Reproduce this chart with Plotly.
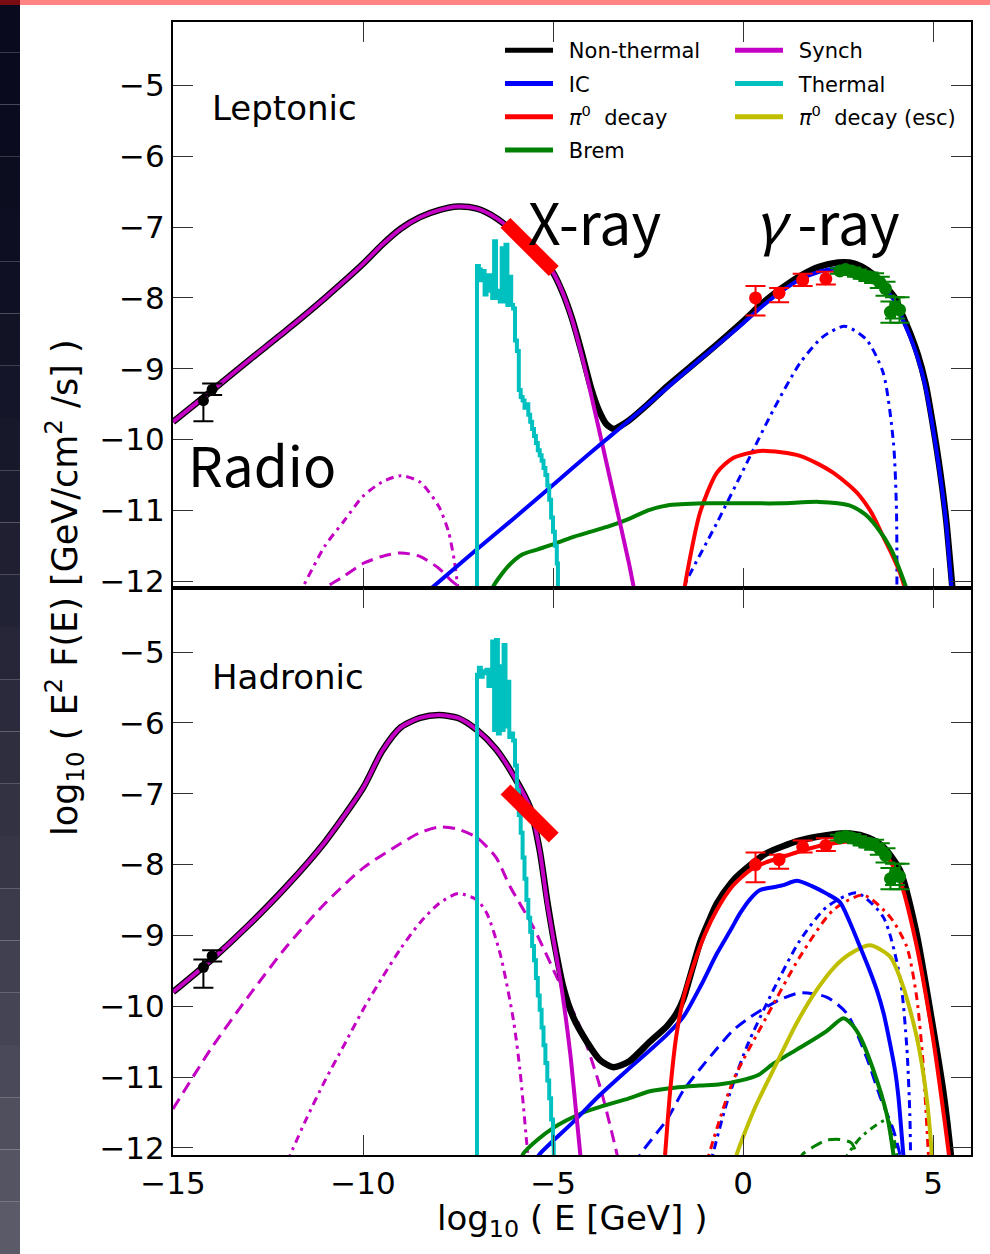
import plotly.graph_objects as go

W, H = 990, 1254

# ---------------- data: Leptonic (top) ----------------
synch_top_x = [-15, -14, -13, -12, -11, -10, -9.5, -9, -8.5, -8, -7.5, -7, -6.5, -6, -5.5, -5.25, -5, -4.75, -4.5, -4.25, -4, -3.5, -3, -2.8]
synch_top_y = [-9.75, -9.32, -8.88, -8.45, -8.0, -7.52, -7.25, -7.02, -6.86, -6.76, -6.71, -6.74, -6.87, -7.08, -7.33, -7.47, -7.64, -7.92, -8.3, -8.8, -9.36, -10.55, -11.75, -12.3]

black_top_x = [-15, -14, -13, -12, -11, -10, -9.5, -9, -8.5, -8, -7.5, -7, -6.5, -6, -5.5, -5.25, -5, -4.75, -4.5, -4.25, -4.0, -3.8, -3.6, -3.4, -3.2, -3.0, -2.5, -2, -1, 0, 0.5, 1, 1.5, 2, 2.5, 2.8, 3.1, 3.5, 4.0, 4.2, 4.4, 4.6, 4.8, 5.0, 5.2, 5.35, 5.52, 5.6]
black_top_y = [-9.75, -9.32, -8.88, -8.45, -8.0, -7.52, -7.25, -7.02, -6.86, -6.76, -6.71, -6.74, -6.87, -7.08, -7.33, -7.47, -7.64, -7.92, -8.29, -8.76, -9.27, -9.58, -9.78, -9.85, -9.8, -9.73, -9.5, -9.25, -8.8, -8.33, -8.08, -7.87, -7.69, -7.56, -7.5, -7.5, -7.55, -7.7, -8.0, -8.25, -8.5, -8.8, -9.2, -9.8, -10.5, -11.15, -12.15, -12.6]

ic_top_x = [-8.4, -7, -6, -5, -4, -3, -2, -1, 0, 0.5, 1, 1.5, 2, 2.5, 3, 3.5, 4.0, 4.2, 4.4, 4.6, 4.8, 5.0, 5.2, 5.35, 5.5, 5.6]
ic_top_y = [-12.19, -11.55, -11.1, -10.64, -10.18, -9.73, -9.27, -8.81, -8.36, -8.12, -7.91, -7.74, -7.63, -7.58, -7.6, -7.75, -8.05, -8.3, -8.55, -8.85, -9.25, -9.85, -10.55, -11.2, -12.15, -12.6]

ic2_top_x = [-1.6, -1.53, -0.69, 0.1, 0.8, 1.5, 2.1, 2.68, 3.25, 3.69, 3.96, 4.04, 4.05]
ic2_top_y = [-12.2, -12.05, -11.18, -10.33, -9.58, -8.92, -8.55, -8.4, -8.59, -9.06, -10.05, -11.03, -12.3]

pi0_top_x = [-1.6, -1.53, -1.13, -0.69, -0.26, 0.45, 1.0, 1.5, 2.0, 2.38, 2.8, 3.08, 3.4, 3.69, 3.9, 4.13, 4.26, 4.35]
pi0_top_y = [-12.4, -12.07, -11.03, -10.47, -10.26, -10.16, -10.18, -10.23, -10.35, -10.47, -10.65, -10.8, -11.05, -11.37, -11.6, -11.88, -12.1, -12.3]

brem_top_x = [-6.7, -6.6, -6.2, -5.8, -5.4, -5.0, -4.5, -4.0, -3.5, -3.0, -2.5, -2.0, -1.0, 0, 1, 2, 2.8, 3.2, 3.5, 3.9, 4.3, 4.4]
brem_top_y = [-12.3, -12.1, -11.8, -11.62, -11.55, -11.48, -11.38, -11.3, -11.22, -11.12, -11.0, -10.93, -10.9, -10.9, -10.9, -10.88, -10.93, -11.05, -11.22, -11.55, -12.1, -12.3]

synch_dash_top_x = [-11.2, -11, -10.5, -10, -9.5, -9, -8.5, -8, -7.7, -7.45, -7.3]
synch_dash_top_y = [-12.25, -12.1, -11.93, -11.75, -11.65, -11.6, -11.65, -11.82, -11.98, -12.1, -12.3]

synch_dd_top_x = [-11.7, -11.6, -11, -10.5, -10, -9.5, -9, -8.5, -8, -7.75, -7.6, -7.5, -7.45]
synch_dd_top_y = [-12.2, -12.1, -11.5, -11.15, -10.8, -10.6, -10.51, -10.6, -10.95, -11.3, -11.7, -12.1, -12.3]

# thermal spectrum (step histogram), bin left edges and values
th_top_x = [-7.0, -7.0, -6.95, -6.9, -6.85, -6.8, -6.75, -6.7, -6.65, -6.6, -6.55, -6.5, -6.45, -6.4, -6.35, -6.3, -6.25, -6.2, -6.15, -6.1, -6.05, -6.0, -5.95, -5.9, -5.85, -5.8, -5.75, -5.7, -5.65, -5.6, -5.55, -5.5, -5.45, -5.4, -5.35, -5.3, -5.25, -5.2, -5.15, -5.1, -5.05, -5.0, -4.95, -4.9, -4.87]
th_top_y = [-12.6, -7.55, -7.6, -7.75, -7.62, -7.95, -7.75, -7.68, -7.9, -8.0, -7.2, -8.0, -7.9, -8.05, -7.3, -8.05, -7.25, -8.1, -7.7, -8.1, -8.15, -8.6, -8.75, -9.3, -9.4, -9.45, -9.55, -9.5, -9.65, -9.75, -9.85, -9.95, -10.05, -10.15, -10.22, -10.3, -10.4, -10.5, -10.65, -10.85, -11.1, -11.3, -11.5, -11.75, -12.6]

# ---------------- data: Hadronic (bottom) ----------------
synch_bot_x = [-15, -14, -13, -12, -11, -10, -9.5, -9, -8.5, -8, -7.5, -7, -6.5, -6, -5.6, -5.35, -5.15, -4.8, -4.55, -4.4, -4.28, -4.2]
synch_bot_y = [-9.8, -9.35, -8.85, -8.3, -7.68, -6.92, -6.4, -6.06, -5.93, -5.89, -5.93, -6.1, -6.37, -6.78, -7.2, -7.8, -8.55, -9.65, -10.65, -11.45, -12.1, -12.6]

black_bot_x = [-15, -14, -13, -12, -11, -10, -9.5, -9, -8.5, -8, -7.5, -7, -6.5, -6, -5.6, -5.35, -5.15, -4.95, -4.73, -4.47, -4.11, -3.76, -3.41, -3.0, -2.45, -2.0, -1.75, -1.57, -1.35, -1.13, -0.9, -0.69, -0.3, -0.08, 0.62, 1.5, 2.38, 2.82, 3.3, 3.69, 4.13, 4.55, 5.0, 5.27, 5.47, 5.55]
black_bot_y = [-9.8, -9.35, -8.85, -8.3, -7.68, -6.92, -6.4, -6.06, -5.93, -5.89, -5.93, -6.1, -6.37, -6.78, -7.2, -7.8, -8.52, -9.15, -9.73, -10.15, -10.5, -10.76, -10.86, -10.78, -10.5, -10.28, -10.1, -9.9, -9.5, -9.1, -8.8, -8.55, -8.25, -8.13, -7.84, -7.66, -7.57, -7.56, -7.62, -7.75, -8.08, -8.93, -10.3, -11.2, -12.1, -12.6]

ic_bot_x = [-5.5, -5.34, -4.5, -3.76, -3.0, -2.45, -2.0, -1.57, -1.1, -0.69, -0.3, -0.08, 0.2, 0.45, 0.8, 1.06, 1.41, 1.8, 2.2, 2.55, 2.8, 3.08, 3.3, 3.52, 3.7, 3.87, 4.0, 4.09, 4.22, 4.3]
ic_bot_y = [-12.2, -12.08, -11.65, -11.25, -10.88, -10.62, -10.4, -10.15, -9.7, -9.26, -8.9, -8.69, -8.48, -8.36, -8.32, -8.29, -8.23, -8.3, -8.41, -8.53, -8.8, -9.16, -9.45, -9.77, -10.1, -10.53, -10.9, -11.28, -12.1, -12.6]

ic_dash_bot_x = [-2.8, -2.71, -2.0, -1.57, -1.0, -0.26, 0.2, 0.62, 1.0, 1.5, 2.2, 2.73, 3.25, 3.61, 3.96, 4.13, 4.2]
ic_dash_bot_y = [-12.25, -12.1, -11.6, -11.19, -10.8, -10.34, -10.15, -10.01, -9.9, -9.81, -9.87, -10.1, -10.72, -11.28, -11.75, -12.1, -12.4]

ic_dd_bot_x = [-0.9, -0.8, -0.43, 0.1, 0.8, 1.5, 2.2, 2.99, 3.69, 4.13, 4.31, 4.39, 4.41, 4.42]
ic_dd_bot_y = [-12.3, -12.1, -11.37, -10.57, -9.77, -9.07, -8.6, -8.4, -8.74, -9.59, -10.57, -11.52, -12.1, -12.4]

pi0_bot_x = [-2.1, -2.05, -1.9, -1.75, -1.55, -1.32, -1.0, -0.69, -0.3, 0.18, 0.6, 1.06, 1.7, 2.38, 2.9, 3.4, 3.8, 4.13, 4.55, 5.0, 5.3, 5.42, 5.5]
pi0_bot_y = [-12.5, -12.1, -11.1, -10.4, -9.85, -9.45, -8.98, -8.64, -8.32, -8.08, -7.97, -7.89, -7.78, -7.7, -7.67, -7.73, -7.9, -8.22, -9.1, -10.45, -11.6, -12.1, -12.5]

pi0_dot_bot_x = [-1.0, -0.9, -0.26, 0.62, 1.5, 2.38, 3.17, 3.87, 4.31, 4.57, 4.74, 4.88, 4.92]
pi0_dot_bot_y = [-12.3, -12.1, -11.05, -10.15, -9.3, -8.64, -8.43, -8.74, -9.16, -9.87, -10.81, -12.1, -12.4]

esc_bot_x = [-0.2, -0.17, 0.3, 0.88, 1.4, 1.94, 2.4, 2.82, 3.34, 3.87, 4.22, 4.57, 4.83, 4.97, 5.0]
esc_bot_y = [-12.2, -12.1, -11.45, -10.81, -10.25, -9.77, -9.45, -9.26, -9.14, -9.3, -9.73, -10.43, -11.28, -12.1, -12.4]

brem_bot_x = [-5.9, -5.78, -5.4, -5.0, -4.64, -4.2, -3.76, -3.0, -2.45, -1.8, -1.13, -0.6, -0.08, 0.4, 0.8, 1.2, 1.67, 2.2, 2.64, 2.85, 3.08, 3.43, 3.78, 3.96, 4.0]
brem_bot_y = [-12.3, -12.08, -11.88, -11.72, -11.61, -11.5, -11.42, -11.3, -11.2, -11.15, -11.12, -11.1, -11.05, -10.97, -10.81, -10.68, -10.53, -10.35, -10.17, -10.25, -10.43, -10.9, -11.52, -12.1, -12.3]

brem_dash_bot_x = [1.5, 1.55, 1.9, 2.2, 2.55, 2.85, 3.0, 3.05]
brem_dash_bot_y = [-12.2, -12.1, -11.97, -11.89, -11.88, -11.93, -12.1, -12.2]

brem_dd_bot_x = [2.7, 2.75, 3.1, 3.5, 3.8, 3.95, 4.05, 4.1]
brem_dd_bot_y = [-12.2, -12.1, -11.85, -11.68, -11.6, -11.8, -12.1, -12.2]

synch_dash_bot_x = [-15, -14, -13, -12, -11, -10, -9, -8.5, -8, -7.5, -7, -6.5, -6.13, -5.52, -4.9, -4.29, -3.76, -3.32, -3.2]
synch_dash_bot_y = [-11.45, -10.6, -9.85, -9.15, -8.55, -8.05, -7.7, -7.55, -7.47, -7.5, -7.62, -7.9, -8.31, -8.88, -9.59, -10.29, -11.14, -12.08, -12.4]

synch_dd_bot_x = [-12.0, -11.5, -11, -10.5, -10, -9.5, -9, -8.5, -8, -7.5, -7, -6.74, -6.39, -6.04, -5.87, -5.69, -5.6]
synch_dd_bot_y = [-12.2, -11.6, -11.05, -10.55, -10.05, -9.6, -9.18, -8.82, -8.55, -8.41, -8.5, -8.69, -9.26, -10.2, -10.9, -11.94, -12.5]

th_bot_x = [-7.0, -7.0, -6.95, -6.9, -6.85, -6.8, -6.75, -6.7, -6.65, -6.6, -6.55, -6.5, -6.45, -6.4, -6.35, -6.3, -6.25, -6.2, -6.15, -6.1, -6.05, -6.0, -5.95, -5.9, -5.85, -5.8, -5.75, -5.7, -5.65, -5.6, -5.55, -5.5, -5.45, -5.4, -5.35, -5.3, -5.25, -5.2, -5.15, -5.1, -5.05, -5.0, -4.98]
th_bot_y = [-12.6, -5.32, -5.22, -5.35, -5.27, -5.3, -5.25, -5.48, -5.3, -4.85, -6.1, -4.83, -6.15, -5.2, -6.1, -4.9, -6.05, -5.42, -6.2, -6.15, -6.25, -6.6, -6.95, -7.3, -7.55, -7.9, -8.2, -8.5, -8.75, -8.95, -9.15, -9.35, -9.6, -9.85, -10.05, -10.3, -10.55, -10.8, -11.05, -11.3, -11.6, -11.95, -12.6]

# ---------------- observations ----------------
xray_x = [-6.25, -4.98]
xray_y = [-6.94, -7.62]

radio_x = [-14.2, -13.97]
radio_y = [-9.45, -9.29]
radio_up = [0.11, 0.08]
radio_dn = [0.29, 0.08]

fermi_x = [0.33, 0.95, 1.57, 2.18]
fermi_y = [-8.0, -7.93, -7.75, -7.73]
fermi_up = [0.17, 0.07, 0.09, 0.1]
fermi_dn = [0.25, 0.13, 0.08, 0.08]

hess_x = [2.55, 2.7, 2.85, 3.0, 3.15, 3.3, 3.45, 3.6, 3.75, 3.88, 4.0, 4.12]
hess_y = [-7.62, -7.6, -7.62, -7.65, -7.68, -7.7, -7.72, -7.78, -7.87, -8.2, -8.14, -8.17]
hess_err = [0.04, 0.04, 0.05, 0.05, 0.05, 0.06, 0.07, 0.08, 0.1, 0.15, 0.15, 0.18]

x_ticks = [-15, -10, -5, 0, 5]
y_ticks = [-5, -6, -7, -8, -9, -10, -11, -12]

# ---------------- colours ----------------
C_K, C_B, C_R, C_G = "#000000", "#0000ff", "#ff0000", "#008000"
C_M, C_C, C_Y = "#c400c4", "#00c0c0", "#bfbf00"
DASH = "12px,7px"
DDOT = "8px,5px,3px,5px"

fig = go.Figure()


def add_line(x, y, color, width, panel, dash="solid", name=None, legend="legend",
             shape="spline"):
    ax = "x" if panel == 1 else "x2"
    ay = "y" if panel == 1 else "y2"
    line = dict(color=color, width=width, dash=dash, shape=shape)
    if shape == "spline":
        line["smoothing"] = 0.7
    fig.add_trace(go.Scatter(
        x=x, y=y, mode="lines", xaxis=ax, yaxis=ay, line=line,
        name=name if name else "", showlegend=name is not None,
        legend=legend, legendgroup=name if name else None, hoverinfo="skip"))


def add_points(x, y, up, dn, color, size, panel, cap):
    ax = "x" if panel == 1 else "x2"
    ay = "y" if panel == 1 else "y2"
    fig.add_trace(go.Scatter(
        x=x, y=y, mode="markers", xaxis=ax, yaxis=ay,
        marker=dict(color=color, size=size),
        error_y=dict(type="data", symmetric=False, array=up, arrayminus=dn,
                     color=color, thickness=2, width=cap),
        showlegend=False, hoverinfo="skip"))


SP = "\u00a0\u2009"
PI0 = "<i>π</i><sup>0</sup>\u00a0 decay"

# ---- top panel ----
add_line(synch_dash_top_x, synch_dash_top_y, C_M, 3, 1, DASH)
add_line(synch_dd_top_x, synch_dd_top_y, C_M, 3, 1, DDOT)
add_line(ic2_top_x, ic2_top_y, C_B, 3, 1, DDOT)
add_line(pi0_top_x, pi0_top_y, C_R, 4, 1)
add_line(brem_top_x, brem_top_y, C_G, 4, 1)
add_line(black_top_x, black_top_y, C_K, 6.5, 1)
add_line(synch_top_x, synch_top_y, C_M, 4, 1)
add_line(ic_top_x, ic_top_y, C_B, 4, 1)
add_line(th_top_x, th_top_y, C_C, 4, 1, shape="hv")
add_line(xray_x, xray_y, C_R, 14, 1, shape="linear")
add_points(radio_x, radio_y, radio_up, radio_dn, C_K, 11, 1, 10)
add_points(fermi_x, fermi_y, fermi_up, fermi_dn, C_R, 13, 1, 10)
add_points(hess_x, hess_y, hess_err, hess_err, C_G, 13, 1, 10)

# ---- bottom panel ----
add_line(synch_dash_bot_x, synch_dash_bot_y, C_M, 3, 2, DASH)
add_line(synch_dd_bot_x, synch_dd_bot_y, C_M, 3, 2, DDOT)
add_line(brem_dash_bot_x, brem_dash_bot_y, C_G, 3, 2, DASH)
add_line(brem_dd_bot_x, brem_dd_bot_y, C_G, 3, 2, DDOT)
add_line(ic_dash_bot_x, ic_dash_bot_y, C_B, 3, 2, DASH)
add_line(ic_dd_bot_x, ic_dd_bot_y, C_B, 3, 2, DDOT)
add_line(pi0_dot_bot_x, pi0_dot_bot_y, C_R, 3, 2, DDOT)
add_line(brem_bot_x, brem_bot_y, C_G, 4, 2)
add_line(esc_bot_x, esc_bot_y, C_Y, 4, 2)
add_line(ic_bot_x, ic_bot_y, C_B, 4, 2)
add_line(black_bot_x, black_bot_y, C_K, 6.5, 2)
add_line(pi0_bot_x, pi0_bot_y, C_R, 4, 2)
add_line(synch_bot_x, synch_bot_y, C_M, 4, 2)
add_line(th_bot_x, th_bot_y, C_C, 4, 2, shape="hv")
add_line(xray_x, xray_y, C_R, 14, 2, shape="linear")
add_points(radio_x, radio_y, radio_up, radio_dn, C_K, 11, 2, 10)
add_points(fermi_x, fermi_y, fermi_up, fermi_dn, C_R, 13, 2, 10)
add_points(hess_x, hess_y, hess_err, hess_err, C_G, 13, 2, 10)

# ---- legend entries (two columns) ----
legend_col1 = [("Non-thermal", C_K), ("IC", C_B), (PI0, C_R), ("Brem", C_G)]
legend_col2 = [("Synch", C_M), ("Thermal", C_C), (PI0 + " (esc)", C_Y)]
for nm, col in legend_col1:
    add_line([None], [None], col, 5, 1, name=SP + nm, legend="legend", shape="linear")
for nm, col in legend_col2:
    add_line([None], [None], col, 5, 1, name=SP + nm, legend="legend2", shape="linear")

# ---------------- axes ----------------
XD = [173 / W, 971 / W]
YD_TOP = [1 - 588.3 / H, 1 - 21.7 / H]
YD_BOT = [1 - 1155 / H, 1 - 588.3 / H]
TICKFONT = dict(family="DejaVu Sans", size=31, color="black")


def lab(v):
    return str(v).replace("-", "\u2212")


axis_common = dict(showline=True, linecolor="black", linewidth=2, mirror="ticks",
                   ticks="inside", ticklen=20, tickwidth=1, tickcolor="#333333",
                   showgrid=False, zeroline=False, tickfont=TICKFONT, automargin=False)

fig.update_layout(
    xaxis=dict(domain=XD, range=[-15, 6], anchor="y", tickvals=x_ticks,
               showticklabels=False, **axis_common),
    yaxis=dict(domain=YD_TOP, range=[-12.1, -4.1], anchor="x", tickvals=y_ticks,
               ticktext=[lab(v) for v in y_ticks], **axis_common),
    xaxis2=dict(domain=XD, range=[-15, 6], anchor="y2", tickvals=x_ticks,
                ticktext=[lab(v) for v in x_ticks], **axis_common),
    yaxis2=dict(domain=YD_BOT, range=[-12.1, -4.1], anchor="x2", tickvals=y_ticks,
                ticktext=[lab(v) for v in y_ticks], **axis_common),
)

# ---------------- page decoration ----------------
shapes = []
n = 24
for i in range(n):
    t = i / (n - 1)
    r = int(10 + 80 * t ** 1.6)
    g = int(10 + 80 * t ** 1.6)
    b = int(30 + 75 * t ** 1.6)
    shapes.append(dict(type="rect", xref="paper", yref="paper", x0=0, x1=20 / W,
                       y0=1 - (i + 1) / n, y1=1 - i / n, line=dict(width=0),
                       fillcolor=f"rgb({r},{g},{b})", layer="below"))
shapes.append(dict(type="rect", xref="paper", yref="paper", x0=20 / W, x1=1,
                   y0=1 - 5 / H, y1=1, line=dict(width=0), fillcolor="#ff8484", layer="below"))
shapes.append(dict(type="rect", xref="paper", yref="paper", x0=0, x1=20 / W,
                   y0=1 - 5 / H, y1=1, line=dict(width=0), fillcolor="#7a0c14", layer="below"))


def px(x, y):
    return x / W, 1 - y / H


annotations = []


def note(text, x, y, size, family="DejaVu Sans", xanchor="left", angle=0):
    ax, ay = px(x, y)
    annotations.append(dict(text=text, x=ax, y=ay, xref="paper", yref="paper",
                            xanchor=xanchor, yanchor="middle", showarrow=False,
                            textangle=angle,
                            font=dict(family=family, size=size, color="black")))


note("Leptonic", 210, 108, 34)
note("Hadronic", 210, 677, 34)
note("Radio", 186, 463, 55, family="Noto Sans CJK JP")
note("X-ray", 526, 220, 57, family="Noto Sans CJK JP")
note("<i>γ</i> -ray", 752, 220, 57, family="Noto Sans CJK JP")
note("log<sub>10</sub> ( E [GeV] )", 572, 1220, 34, xanchor="center")
note("log<sub>10</sub> ( E<sup>2</sup> F(E) [GeV/cm<sup>2</sup> /s] )", 64, 588, 35,
     xanchor="center", angle=-90)

LEGFONT = dict(family="DejaVu Sans", size=21, color="black")
fig.update_layout(
    width=W, height=H, margin=dict(l=0, r=0, t=0, b=0, autoexpand=False),
    paper_bgcolor="white", plot_bgcolor="white",
    shapes=shapes, annotations=annotations,
    showlegend=True,
    legend=dict(orientation="v", x=500 / W, y=1 - 30 / H, xanchor="left", yanchor="top",
                itemwidth=48, bgcolor="rgba(0,0,0,0)", font=LEGFONT,
                tracegroupgap=3),
    legend2=dict(orientation="v", x=730 / W, y=1 - 30 / H, xanchor="left", yanchor="top",
                 itemwidth=48, bgcolor="rgba(0,0,0,0)", font=LEGFONT,
                 tracegroupgap=3),
)

fig.write_html("out.html")
